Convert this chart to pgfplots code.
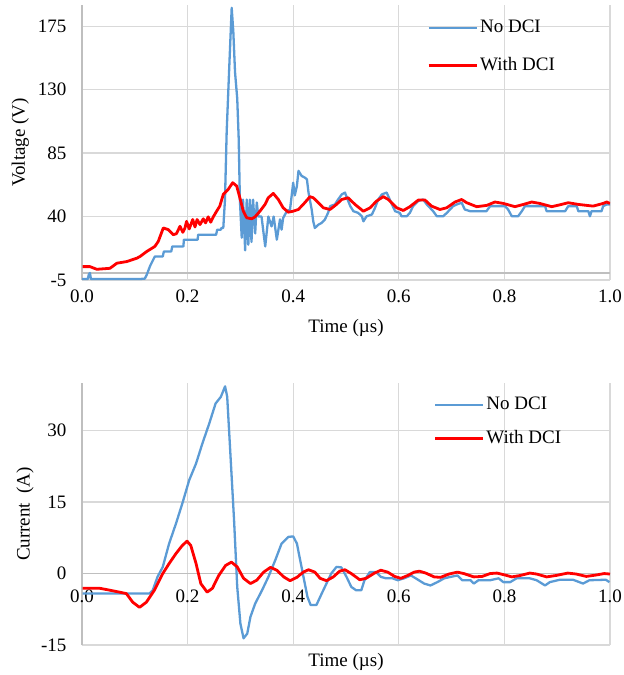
\documentclass[border=0pt]{standalone}
\usepackage{pgfplots}
\pgfplotsset{compat=1.18}
\usepackage{fontspec}
\setmainfont{Liberation Serif}
\definecolor{xlblue}{RGB}{91,155,213}
\definecolor{xlred}{RGB}{255,0,0}
\definecolor{gridgray}{RGB}{217,217,217}
\definecolor{axgray}{RGB}{191,191,191}

\pgfplotsset{
  scopeplot/.style={
    scale only axis,
    axis x line*=middle, axis y line*=left,
    hide obscured x ticks=false, hide obscured y ticks=false,
    axis line style={draw=axgray, line width=1.5pt, -},
    grid=major, major grid style={draw=gridgray, line width=1.3pt},
    major tick length=0pt,
    xmin=0, xmax=1,
    xtick={0,0.2,0.4,0.6,0.8,1},
    xticklabels={0.0,0.2,0.4,0.6,0.8,1.0},
    xticklabel style={yshift=-10pt},
    yticklabel style={xshift=-9pt},
    legend cell align=left,
    legend style={draw=none, fill=none, anchor=north west, row sep=18pt,
      /tikz/every even column/.append style={column sep=2pt}},
    legend image code/.code={\draw[#1] (0pt,0pt) -- (48pt,0pt);},
  },
  noDCI/.style={color=xlblue, line width=2.3pt, line join=round},
  withDCI/.style={color=xlred, line width=2.8pt, line join=round},
}

\begin{document}
\fontsize{19}{22}\selectfont
\begin{tikzpicture}[font=\fontsize{19}{22}\selectfont]
\useasboundingbox (0pt,0pt) rectangle (624pt,-675pt);

% voltage
\begin{axis}[scopeplot,
  at={(82pt,-280pt)}, anchor=south west,
  width=528pt, height=275pt,
  ymin=-5, ymax=190,
  ytick={-5,40,85,130,175},
  yticklabels={-5,40,85,130,175},
  xlabel={Time (µs)},
  xlabel style={at={(axis description cs:0.5,0)}, anchor=center, yshift=-48pt},
  ylabel={Voltage (V)},
  ylabel style={at={(axis description cs:-0.117,0.5)}, anchor=center, rotate=0},
  legend style={at={(axis description cs:0.648,0.96)}},
]
\addplot[noDCI] coordinates {
(0.000,-4.3)(0.011,-4.3)(0.013,-1)(0.015,0)(0.017,-4.3)(0.110,-4.3)(0.119,-4.0)
(0.1225,-1.4)(0.129,5)(0.138,11.7)(0.153,11.7)(0.155,15.2)(0.169,15.2)
(0.171,18.8)(0.192,18.8)(0.193,23.6)(0.219,23.6)(0.220,27.1)(0.254,27.1)
(0.256,30.7)(0.263,30.7)(0.264,31.9)(0.2676,32)(0.2708,52)(0.274,100)
(0.279,147)(0.2835,188)(0.2866,171)(0.2898,142.6)(0.294,123.6)(0.2968,95)
(0.299,52)(0.3025,25)(0.305,52)(0.309,16)(0.312,52)(0.315,20)(0.318,52)
(0.321,22)(0.324,52)(0.328,28)(0.331,50)(0.334,40)(0.340,40)(0.347,18.8)
(0.353,40)(0.359,33)(0.363,40)(0.369,23.6)(0.375,38)(0.378,30.7)(0.381,39)
(0.388,43.8)(0.394,45)(0.400,64)(0.403,55)(0.407,61.6)(0.410,72.4)(0.416,68.8)
(0.422,67.6)(0.426,66.4)(0.429,57)(0.435,45)(0.438,36.6)(0.441,31.9)
(0.448,34.3)(0.454,35.5)(0.460,37.9)(0.466,42.6)(0.470,47.4)(0.479,48.6)
(0.485,52.1)(0.492,55.7)(0.498,57)(0.508,47.4)(0.514,43.8)(0.523,42.6)
(0.530,40.2)(0.533,36.6)(0.539,40.2)(0.549,41.4)(0.555,46.2)(0.561,52.1)
(0.568,55.7)(0.577,57)(0.587,48.6)(0.593,43.8)(0.602,42.6)(0.605,40.2)
(0.615,40.2)(0.621,42.6)(0.627,47.4)(0.637,51)(0.646,52.1)(0.653,48.6)
(0.665,43.8)(0.672,40.2)(0.684,40.2)(0.691,42.6)(0.697,45)(0.703,47.4)
(0.710,48.6)(0.719,49.8)(0.725,45)(0.735,43.8)(0.766,43.8)(0.773,47.4)
(0.801,47.4)(0.807,45)(0.814,40.2)(0.826,40.2)(0.833,43.8)(0.839,47.4)
(0.877,47.4)(0.880,43.8)(0.915,43.8)(0.921,47.4)(0.937,47.4)(0.940,43.8)
(0.959,43.8)(0.962,40.2)(0.965,43.8)(0.984,43.8)(0.987,47.4)(0.994,48.6)
(1.000,48.6)
};
\addlegendentry{No DCI}
\addplot[withDCI] coordinates {
(0.001,4.5)(0.015,4.5)(0.028,2.6)(0.053,3.3)(0.066,6.9)(0.085,8.1)(0.104,10.5)
(0.110,11.7)(0.1225,15.2)(0.138,18.8)(0.1445,22.4)(0.154,31.9)(0.1635,30.7)
(0.173,27.1)(0.179,27.9)(0.1856,33.1)(0.191,28.8)(0.195,31.9)(0.198,36.6)
(0.203,31.2)(0.2097,37.9)(0.214,32.6)(0.218,37.9)(0.2235,34.3)(0.2297,38.4)
(0.234,35.5)(0.239,39.8)(0.2438,36)(0.2487,39.8)(0.255,43.8)(0.261,47.4)
(0.2676,55.7)(0.277,59.3)(0.2854,64)(0.293,61.6)(0.299,53.3)(0.3055,43.8)
(0.312,39.1)(0.3214,38.4)(0.3277,39.8)(0.337,43.8)(0.3466,48.6)(0.3528,53.3)
(0.3623,56.4)(0.3718,52.1)(0.381,46.2)(0.3907,43.1)(0.400,43.8)(0.4097,45)
(0.419,48.6)(0.4318,54.1)(0.438,53.3)(0.4445,51)(0.457,46.2)(0.4697,45)
(0.482,48.6)(0.4919,52.1)(0.504,53.3)(0.517,48.6)(0.5328,43.8)(0.5455,46.2)
(0.558,51)(0.5706,54.1)(0.580,52.1)(0.596,46.2)(0.6085,44.3)(0.621,47)
(0.637,51.7)(0.6496,51.7)(0.662,47.4)(0.678,45)(0.6907,46.2)(0.7064,50.3)
(0.719,52.1)(0.7286,49.8)(0.7475,47)(0.7665,47.9)(0.782,50.3)(0.798,49.3)
(0.820,47)(0.836,48.6)(0.8517,50.3)(0.867,49.3)(0.8896,47)(0.905,48.3)
(0.921,49.8)(0.940,48.6)(0.968,47.4)(0.987,49.3)(0.9937,50.3)(1.000,49.3)
};
\addlegendentry{With DCI}
\end{axis}

% current
\begin{axis}[scopeplot,
  at={(82pt,-645pt)}, anchor=south west,
  width=528pt, height=262pt,
  ymin=-15, ymax=40,
  ytick={-15,0,15,30},
  yticklabels={-15,0,15,30},
  xlabel={Time (µs)},
  xlabel style={at={(axis description cs:0.5,0)}, anchor=center, yshift=-17pt},
  ylabel={Current\ \ (A)},
  ylabel style={at={(axis description cs:-0.108,0.5)}, anchor=center, rotate=0},
  legend style={at={(axis description cs:0.66,0.962)}, row sep=14pt},
]
\addplot[noDCI] coordinates {
(0.001,-4.2)(0.128,-4.2)(0.134,-3.5)(0.143,-0.7)(0.153,1.4)(0.165,6.3)
(0.178,10.5)(0.190,14.7)(0.203,19.6)(0.216,23.1)(0.228,27.3)(0.241,31.5)
(0.253,35.7)(0.263,37.1)(0.271,39.3)(0.275,37.1)(0.281,25.2)(0.288,11.2)
(0.294,-2.8)(0.300,-10.5)(0.306,-13.6)(0.313,-12.6)(0.319,-9.1)(0.328,-6.3)
(0.341,-3.5)(0.353,-0.7)(0.366,2.8)(0.378,6.3)(0.391,7.7)(0.400,7.8)
(0.407,6.3)(0.417,0.7)(0.427,-4.9)(0.433,-6.6)(0.444,-6.6)(0.454,-4.2)
(0.463,-2.1)(0.472,0)(0.482,1.4)(0.491,1.3)(0.501,-0.7)(0.510,-2.8)
(0.519,-3.5)(0.529,-3.5)(0.535,-1.4)(0.545,0.3)(0.557,0.3)(0.566,-0.7)
(0.576,-1.0)(0.588,-1.0)(0.598,-1.4)(0.610,-1.0)(0.623,-0.4)(0.632,-1.0)
(0.648,-2.1)(0.660,-2.5)(0.673,-1.8)(0.686,-1.0)(0.698,-0.7)(0.711,-0.4)
(0.720,-1.4)(0.736,-1.4)(0.742,-2.1)(0.751,-1.4)(0.773,-1.4)(0.789,-1.0)
(0.798,-1.8)(0.811,-1.8)(0.823,-1.0)(0.848,-1.0)(0.861,-1.4)(0.877,-2.5)
(0.886,-1.8)(0.905,-1.3)(0.930,-1.3)(0.949,-2.1)(0.961,-1.4)(0.992,-1.3)
(0.999,-1.8)
};
\addlegendentry{No DCI}
\addplot[withDCI] coordinates {
(0.001,-3.1)(0.034,-3.1)(0.053,-3.5)(0.084,-4.2)(0.096,-6.0)(0.109,-7.1)
(0.122,-6.0)(0.137,-3.5)(0.153,0)(0.165,2.1)(0.178,4.2)(0.190,5.9)(0.199,6.8)
(0.206,5.9)(0.216,2.1)(0.225,-2.1)(0.237,-3.9)(0.247,-3.1)(0.259,-0.4)
(0.272,1.7)(0.283,2.4)(0.294,1.4)(0.306,-1.0)(0.319,-2.1)(0.331,-1.4)
(0.344,0.3)(0.357,1.3)(0.369,0.7)(0.382,-0.7)(0.394,-1.5)(0.407,-0.8)
(0.419,0.3)(0.429,0.8)(0.441,0.3)(0.451,-1.0)(0.463,-1.5)(0.476,-0.7)
(0.488,0.5)(0.498,0.8)(0.510,0)(0.526,-1.3)(0.538,-1.0)(0.554,0.1)(0.566,0.7)
(0.579,0.3)(0.592,-0.6)(0.604,-1.0)(0.617,-0.4)(0.629,0.3)(0.639,0.5)
(0.651,0.1)(0.667,-0.7)(0.679,-0.8)(0.695,-0.1)(0.711,0.3)(0.723,0)
(0.742,-0.7)(0.758,-0.6)(0.773,0)(0.786,0.1)(0.801,-0.3)(0.814,-0.7)
(0.830,-0.4)(0.848,0.1)(0.861,-0.1)(0.880,-0.7)(0.898,-0.4)(0.920,0.1)
(0.936,-0.1)(0.955,-0.6)(0.974,-0.3)(0.989,0)(1.000,-0.1)
};
\addlegendentry{With DCI}
\end{axis}
\end{tikzpicture}
\end{document}
